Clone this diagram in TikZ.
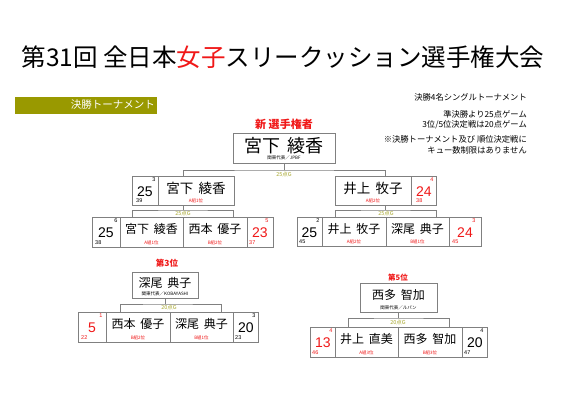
\documentclass[tikz,border=0pt]{standalone}
\usepackage{fontspec}
\setmainfont{Noto Sans CJK JP}
\newfontfamily\numf{Liberation Sans}
\definecolor{lg}{HTML}{808080}
\definecolor{olv}{HTML}{999900}
\definecolor{olt}{HTML}{A8A830}
\definecolor{rd}{HTML}{F01818}
\newcommand{\nsp}{\hspace{0.4em}}
\tikzset{
  cell/.style={draw=lg,line width=0.7pt,inner sep=0pt,outer sep=0pt},
  conn/.style={draw=lg,line width=0.7pt},
  nmF/.style={inner sep=0pt,font=\fontsize{18}{18}\selectfont},
  nmS/.style={inner sep=0pt,font=\fontsize{13.5}{13.5}\selectfont},
  nmQ/.style={inner sep=0pt,font=\fontsize{12}{12}\selectfont},
  grp/.style={inner sep=0pt,text=rd,font=\fontsize{4.5}{4.5}\selectfont},
  aff/.style={inner sep=0pt,font=\fontsize{4.5}{4.5}\selectfont},
  sc/.style={inner sep=0pt,font=\numf\fontsize{14}{14}\selectfont},
  sm/.style={inner sep=0pt,font=\numf\fontsize{5.5}{5.5}\selectfont},
  gl/.style={inner sep=0pt,text=olt,font=\fontsize{5.5}{5.5}\selectfont},
  note/.style={inner sep=0pt,anchor=east,font=\fontsize{8.3}{8.3}\selectfont},
  rank/.style={inner sep=0pt,text=rd,font=\bfseries\fontsize{8.5}{8.5}\selectfont},
}
\begin{document}
\begin{tikzpicture}[x=1pt,y=-1pt]
\useasboundingbox[fill=white] (0,0) rectangle (566,400);

% title
\node[inner sep=0pt,font=\fontsize{24.5}{24.5}\selectfont] (title) at (283,57)
  {第31回 全日本\textcolor{rd}{女子}スリークッション選手権大会};

% green bar
\node[fill=olv,minimum width=142pt,minimum height=17pt,inner sep=0pt] (bar) at (86,105) {};
\node[inner sep=0pt,anchor=east,text=white,font=\fontsize{10.5}{10.5}\selectfont] (bart) at (155,105) {決勝トーナメント};

% notes
\node[note] (n1) at (527,97) {決勝4名シングルトーナメント};
\node[note] (n2) at (527,114) {準決勝より25点ゲーム};
\node[note] (n3) at (527,125) {3位/5位決定戦は20点ゲーム};
\node[note] (n4) at (527,139) {※決勝トーナメント及び 順位決定戦に};
\node[note] (n5) at (527,150) {キュー数制限はありません};

% ===== final =====
\node[rank,font=\bfseries\fontsize{11}{11}\selectfont] (champ) at (284,124) {新 選手権者};
\node[cell,minimum width=102pt,minimum height=30pt] (fin) at (284,148) {};
\node[nmF] (finN) at (284,146) {宮下\nsp 綾香};
\node[aff] (finA) at (284,158) {関東代表／JPBF};

% ===== semifinal left =====
\node[cell,minimum width=102pt,minimum height=29pt] (sfL) at (183,190.5) {};
\node[cell,minimum width=26pt,minimum height=29pt] (sfLs) at (145,190.5) {};
\node[sc] at (145,192) {25};
\node[sm] at (154,180) {3};
\node[sm,anchor=west] at (136,201) {39};
\node[nmS] (sfLn) at (196,188) {宮下\nsp 綾香};
\node[grp] at (196,201) {A組1位};

% ===== semifinal right =====
\node[cell,minimum width=101pt,minimum height=29pt] (sfR) at (385.5,190.5) {};
\node[cell,minimum width=25pt,minimum height=29pt] (sfRs) at (423.5,190.5) {};
\node[nmS] (sfRn) at (373,188) {井上\nsp 牧子};
\node[grp] at (373,201) {A組2位};
\node[sc,text=rd] at (424,192) {24};
\node[sm,text=rd] at (432,180) {4};
\node[sm,text=rd,anchor=west] at (416,201) {38};

% final bracket
\draw[conn] (fin.south) -- ++(0,7) coordinate (fj);
\draw[conn] (sfL.north) |- (fj) -| (sfR.north);
\node[gl] (g1) at (284,174) {25点G};

% ===== QF left =====
\node[cell,minimum width=181pt,minimum height=30pt] (qL) at (182.5,232) {};
\node[cell,minimum width=28pt,minimum height=30pt] (qL1) at (106,232) {};
\node[cell,minimum width=64pt,minimum height=30pt] (qL3) at (215,232) {};
\node[sc] at (106,233) {25};
\node[sm] at (116,221) {6};
\node[sm,anchor=west] at (95,243) {38};
\node[nmQ] at (151.5,229) {宮下\nsp 綾香};
\node[grp] at (151.5,243) {A組1位};
\node[nmQ] at (215,229) {西本\nsp 優子};
\node[grp] at (215,243) {B組2位};
\node[sc,text=rd] at (260,233) {23};
\node[sm,text=rd] at (267,221) {5};
\node[sm,text=rd,anchor=west] at (249,243) {37};
\coordinate (qLa) at (132,217);
\coordinate (qLb) at (233,217);
\draw[conn] (sfL.south) -- ++(0,5) coordinate (lj);
\draw[conn] (qLa) |- (lj) -| (qLb);
\node[gl] (g2) at (183,213) {25点G};

% ===== QF right =====
\node[cell,minimum width=184pt,minimum height=29pt] (qR) at (389,231.5) {};
\node[cell,minimum width=25pt,minimum height=29pt] (qR1) at (309.5,231.5) {};
\node[cell,minimum width=63pt,minimum height=29pt] (qR3) at (417.5,231.5) {};
\node[sc] at (309.5,233) {25};
\node[sm] at (318,221) {2};
\node[sm,anchor=west] at (299,242) {45};
\node[nmQ] at (354,229) {井上\nsp 牧子};
\node[grp] at (354,242) {A組2位};
\node[nmQ] at (417.5,229) {深尾\nsp 典子};
\node[grp] at (417.5,242) {B組1位};
\node[sc,text=rd] at (465,233) {24};
\node[sm,text=rd] at (474,221) {3};
\node[sm,text=rd,anchor=west] at (452,242) {45};
\coordinate (qRa) at (335,217);
\coordinate (qRb) at (436,217);
\draw[conn] (sfR.south) -- ++(0,5) coordinate (rj);
\draw[conn] (qRa) |- (rj) -| (qRb);
\node[gl] (g3) at (386,213) {25点G};

% ===== third place =====
\node[rank] (r3) at (167,263) {第3位};
\node[cell,minimum width=66pt,minimum height=26pt] (t3) at (165,285) {};
\node[nmQ] at (165,283) {深尾\nsp 典子};
\node[aff] at (165,294) {関東代表／KOBAYASHI};
\node[cell,minimum width=180pt,minimum height=30pt] (b3) at (168,327) {};
\node[cell,minimum width=28pt,minimum height=30pt] (b31) at (92,327) {};
\node[cell,minimum width=63pt,minimum height=30pt] (b33) at (201.5,327) {};
\node[sc,text=rd] at (92,328) {5};
\node[sm,text=rd] at (101,316) {1};
\node[sm,text=rd,anchor=west] at (81,338) {22};
\node[nmQ] at (138,324) {西本\nsp 優子};
\node[grp] at (138,338) {B組2位};
\node[nmQ] at (201.5,324) {深尾\nsp 典子};
\node[grp] at (201.5,338) {B組1位};
\node[sc] at (246,328) {20};
\node[sm] at (254,316) {3};
\node[sm,anchor=west] at (235,338) {23};
\coordinate (b3a) at (120,312);
\coordinate (b3b) at (221,312);
\draw[conn] (t3.south) -- ++(0,6) coordinate (tj);
\draw[conn] (b3a) |- (tj) -| (b3b);
\node[gl] (g4) at (169,307.5) {20点G};

% ===== fifth place =====
\node[rank,font=\bfseries\fontsize{7.5}{7.5}\selectfont] (r5) at (398,278) {第5位};
\node[cell,minimum width=77pt,minimum height=29pt] (t5) at (398.5,297.5) {};
\node[nmQ] at (398.5,295) {西多\nsp 智加};
\node[aff] at (398.5,308) {関東代表／ルパン};
\node[cell,minimum width=177pt,minimum height=30pt] (b5) at (398.5,342) {};
\node[cell,minimum width=25pt,minimum height=30pt] (b51) at (322.5,342) {};
\node[cell,minimum width=64pt,minimum height=30pt] (b53) at (430,342) {};
\node[sc,text=rd] at (323,343) {13};
\node[sm,text=rd] at (331,331) {4};
\node[sm,text=rd,anchor=west] at (312,353) {46};
\node[nmQ] at (366.5,339) {井上\nsp 直美};
\node[grp] at (366.5,353) {A組3位};
\node[nmQ] at (430,339) {西多\nsp 智加};
\node[grp] at (430,353) {B組3位};
\node[sc] at (475,343) {20};
\node[sm] at (482,331) {4};
\node[sm,anchor=west] at (464,353) {47};
\coordinate (b5a) at (348,327);
\coordinate (b5b) at (449,327);
\draw[conn] (t5.south) -- ++(0,6) coordinate (fj5);
\draw[conn] (b5a) |- (fj5) -| (b5b);
\node[gl] (g5) at (398,322) {20点G};
\end{tikzpicture}
\end{document}
